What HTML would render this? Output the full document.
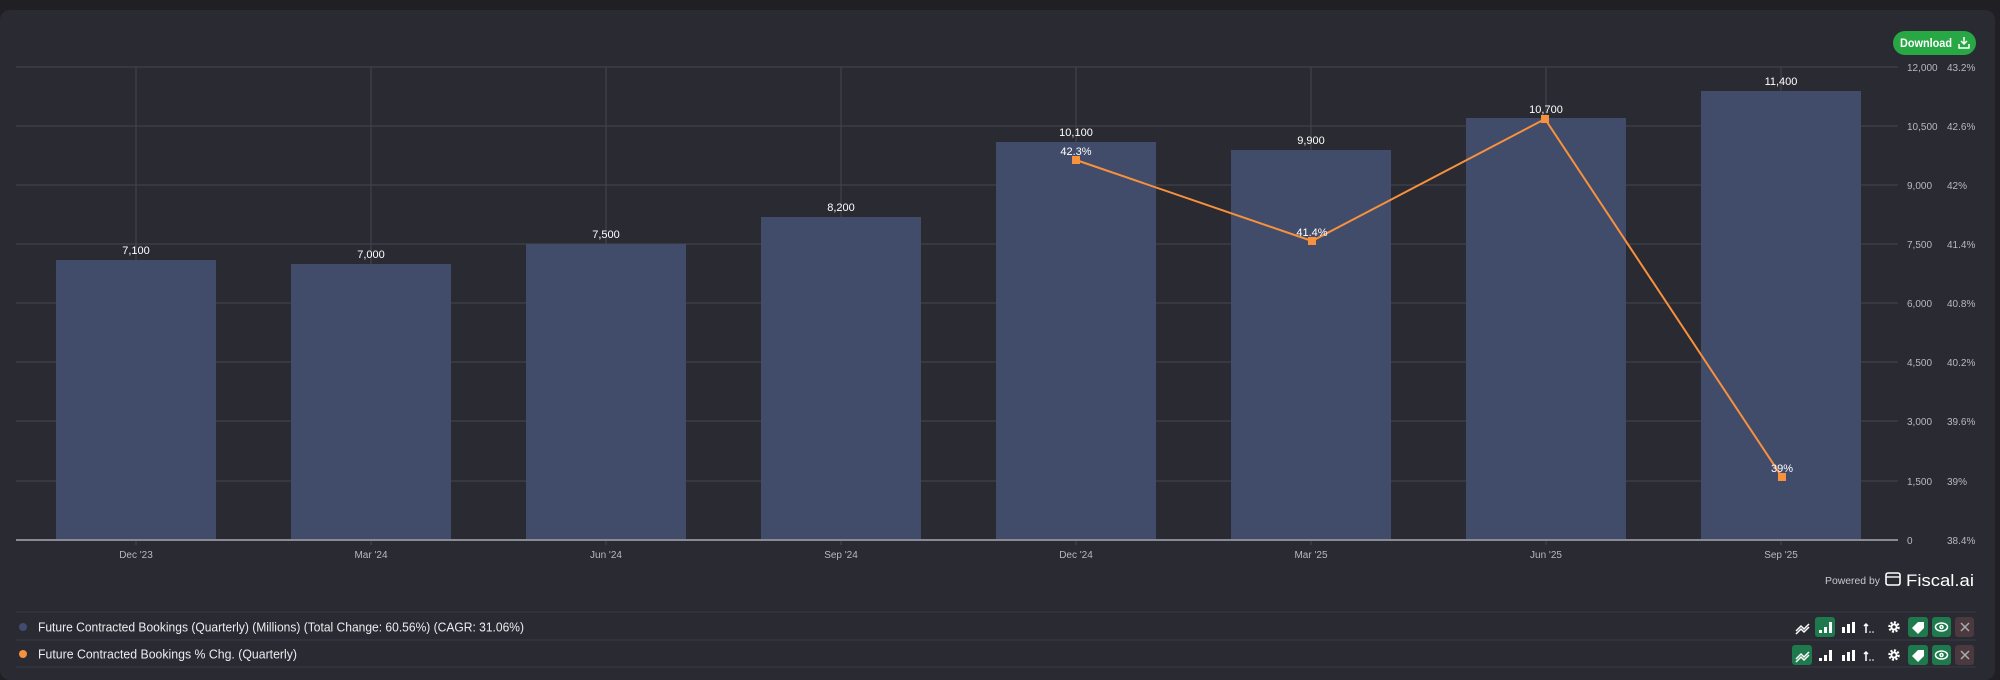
<!DOCTYPE html>
<html><head><meta charset="utf-8"><style>
html,body{margin:0;padding:0;width:2000px;height:680px;background:#1f1f24;overflow:hidden;font-family:"Liberation Sans",sans-serif}
</style></head><body>
<svg width="2000" height="680" xmlns="http://www.w3.org/2000/svg" font-family="Liberation Sans, sans-serif">
<rect x="0" y="10" width="1995" height="670" rx="10" fill="#2a2a32"/>
<g stroke="#44454e" stroke-width="1">
<line x1="16" y1="67" x2="1898" y2="67"/><line x1="16" y1="126" x2="1898" y2="126"/><line x1="16" y1="185" x2="1898" y2="185"/><line x1="16" y1="244" x2="1898" y2="244"/><line x1="16" y1="303" x2="1898" y2="303"/><line x1="16" y1="362" x2="1898" y2="362"/><line x1="16" y1="421" x2="1898" y2="421"/><line x1="16" y1="481" x2="1898" y2="481"/>
<line x1="136" y1="67" x2="136" y2="545"/><line x1="371" y1="67" x2="371" y2="545"/><line x1="606" y1="67" x2="606" y2="545"/><line x1="841" y1="67" x2="841" y2="545"/><line x1="1076" y1="67" x2="1076" y2="545"/><line x1="1311" y1="67" x2="1311" y2="545"/><line x1="1546" y1="67" x2="1546" y2="545"/><line x1="1781" y1="67" x2="1781" y2="545"/>
</g>
<g fill="#414b6a">
<rect x="56" y="260" width="160" height="280"/><rect x="291" y="264" width="160" height="276"/><rect x="526" y="244" width="160" height="296"/><rect x="761" y="217" width="160" height="323"/><rect x="996" y="142" width="160" height="398"/><rect x="1231" y="150" width="160" height="390"/><rect x="1466" y="118" width="160" height="422"/><rect x="1701" y="91" width="160" height="449"/>
</g>
<line x1="16" y1="540" x2="1898" y2="540" stroke="#8a8a94" stroke-width="2"/>
<g fill="#ffffff" font-size="11" text-anchor="middle">
<text x="136" y="254">7,100</text><text x="371" y="258">7,000</text><text x="606" y="238">7,500</text><text x="841" y="211">8,200</text><text x="1076" y="136">10,100</text><text x="1311" y="144">9,900</text><text x="1546" y="113">10,700</text><text x="1781" y="85">11,400</text>
</g>
<polyline points="1076,160 1312,241 1545,119 1782,477" fill="none" stroke="#f7913d" stroke-width="2"/>
<g fill="#f7913d"><rect x="1072" y="156" width="8" height="8"/><rect x="1308" y="237" width="8" height="8"/><rect x="1541" y="115" width="8" height="8"/><rect x="1778" y="473" width="8" height="8"/></g>
<g fill="#ffffff" font-size="11" text-anchor="middle">
<text x="1076" y="155">42.3%</text><text x="1312" y="236">41.4%</text><text x="1782" y="472">39%</text>
</g>
<g fill="#b8b8c0" font-size="10">
<text x="1907" y="71">12,000</text><text x="1907" y="130">10,500</text><text x="1907" y="189">9,000</text><text x="1907" y="248">7,500</text><text x="1907" y="307">6,000</text><text x="1907" y="366">4,500</text><text x="1907" y="425">3,000</text><text x="1907" y="485">1,500</text><text x="1907" y="544">0</text>
<text x="1947" y="71">43.2%</text><text x="1947" y="130">42.6%</text><text x="1947" y="189">42%</text><text x="1947" y="248">41.4%</text><text x="1947" y="307">40.8%</text><text x="1947" y="366">40.2%</text><text x="1947" y="425">39.6%</text><text x="1947" y="485">39%</text><text x="1947" y="544">38.4%</text>
</g>
<g fill="#b8b8c0" font-size="10" text-anchor="middle">
<text x="136" y="558">Dec '23</text><text x="371" y="558">Mar '24</text><text x="606" y="558">Jun '24</text><text x="841" y="558">Sep '24</text><text x="1076" y="558">Dec '24</text><text x="1311" y="558">Mar '25</text><text x="1546" y="558">Jun '25</text><text x="1781" y="558">Sep '25</text>
</g>
<rect x="1893" y="31" width="83" height="24" rx="12" fill="#27a844"/>
<text x="1900" y="47" fill="#fff" font-size="11.5" font-weight="bold" textLength="52" lengthAdjust="spacingAndGlyphs">Download</text>
<path d="M1964 37v7M1961 41l3 3 3-3M1959 44v4h10v-4" stroke="#fff" stroke-width="1.5" fill="none"/>
<text x="1825" y="584" fill="#c8c8cc" font-size="10.5" textLength="55" lengthAdjust="spacingAndGlyphs">Powered by</text>
<rect x="1886" y="573" width="14" height="12" rx="2" fill="none" stroke="#fff" stroke-width="1.6"/>
<line x1="1886" y1="577" x2="1900" y2="577" stroke="#fff" stroke-width="1.4"/>
<text x="1906" y="586" fill="#fff" font-size="17" textLength="68" lengthAdjust="spacingAndGlyphs">Fiscal.ai</text>
<g stroke="#3a3a44" stroke-width="1"><line x1="16" y1="612" x2="1976" y2="612"/><line x1="16" y1="640" x2="1976" y2="640"/><line x1="16" y1="667" x2="1976" y2="667"/></g>
<circle cx="23" cy="627" r="4" fill="#424c70"/><circle cx="23" cy="654" r="4" fill="#f7913d"/>
<text x="38" y="631.5" fill="#ececf0" font-size="13" textLength="486" lengthAdjust="spacingAndGlyphs">Future Contracted Bookings (Quarterly) (Millions) (Total Change: 60.56%) (CAGR: 31.06%)</text>
<text x="38" y="658.5" fill="#ececf0" font-size="13" textLength="259" lengthAdjust="spacingAndGlyphs">Future Contracted Bookings % Chg. (Quarterly)</text>
<g>
<rect x="1815" y="617" width="20" height="20" rx="3" fill="#1e7a4c"/>
<rect x="1792" y="645" width="20" height="20" rx="3" fill="#1e7a4c"/>
<rect x="1908" y="617" width="20" height="20" rx="3" fill="#1e7a4c"/><rect x="1932" y="617" width="19" height="20" rx="3" fill="#1e7a4c"/><rect x="1955" y="617" width="19" height="20" rx="3" fill="#4a3a40"/>
<rect x="1908" y="645" width="20" height="20" rx="3" fill="#1e7a4c"/><rect x="1932" y="645" width="19" height="20" rx="3" fill="#1e7a4c"/><rect x="1955" y="645" width="19" height="20" rx="3" fill="#4a3a40"/>
<g stroke="#fff" stroke-width="1.5" fill="none">
<path d="M1796 631l5-5 3 3 5-5M1796 634l5-5 3 3 5-5"/><path d="M1796 659l5-5 3 3 5-5M1796 662l5-5 3 3 5-5"/>
<path d="M1961 623l8 8M1969 623l-8 8M1961 651l8 8M1969 651l-8 8" stroke="#aaa"/>
<ellipse cx="1941.5" cy="627" rx="6" ry="4"/><circle cx="1941.5" cy="627" r="1.5"/>
<ellipse cx="1941.5" cy="655" rx="6" ry="4"/><circle cx="1941.5" cy="655" r="1.5"/>
<path d="M1866 633v-9M1864 626l2-2 2 2M1866 661v-9M1864 654l2-2 2 2"/>
<circle cx="1894" cy="627" r="4.5" stroke-width="2.5" stroke-dasharray="2 1.5"/><circle cx="1894" cy="655" r="4.5" stroke-width="2.5" stroke-dasharray="2 1.5"/>
</g>
<g fill="#fff">
<rect x="1819" y="630" width="3" height="3"/><rect x="1824" y="627" width="3" height="6"/><rect x="1829" y="622" width="3" height="11"/>
<rect x="1819" y="658" width="3" height="3"/><rect x="1824" y="655" width="3" height="6"/><rect x="1829" y="650" width="3" height="11"/>
<rect x="1842" y="627" width="3" height="6"/><rect x="1847" y="624" width="3" height="9"/><rect x="1852" y="622" width="3" height="11"/>
<rect x="1842" y="655" width="3" height="6"/><rect x="1847" y="652" width="3" height="9"/><rect x="1852" y="650" width="3" height="11"/>
<circle cx="1870" cy="632" r="0.8"/><circle cx="1873" cy="632" r="0.8"/><circle cx="1870" cy="660" r="0.8"/><circle cx="1873" cy="660" r="0.8"/>
<circle cx="1894" cy="627" r="3.5"/><circle cx="1894" cy="655" r="3.5"/>
<path d="M1912 628l6-6h6v6l-6 6z"/><path d="M1912 656l6-6h6v6l-6 6z"/>
</g>
<circle cx="1894" cy="627" r="1.6" fill="#2a2a32"/><circle cx="1894" cy="655" r="1.6" fill="#2a2a32"/>
</g>
</svg>
</body></html>
